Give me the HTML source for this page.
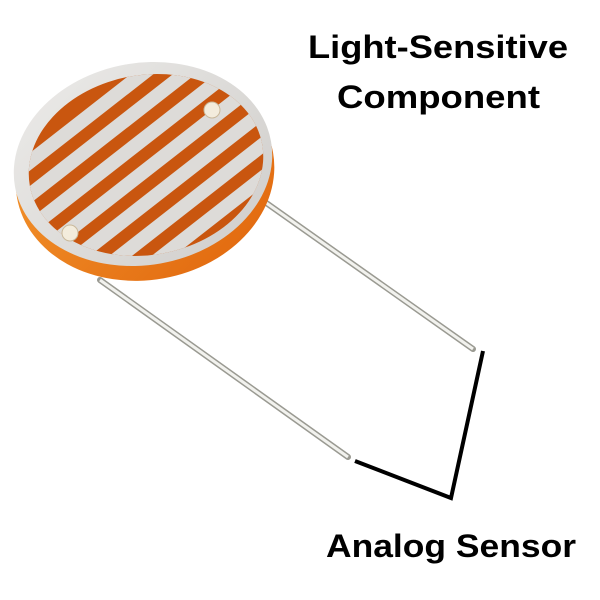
<!DOCTYPE html>
<html><head><style>
html,body{margin:0;padding:0;background:#fff;}
svg{display:block;}
text{font-family:"Liberation Sans",sans-serif;font-weight:bold;fill:#000;}
</style></head><body>
<svg width="600" height="600" viewBox="0 0 600 600">
<defs>
<clipPath id="inner"><ellipse cx="146" cy="165" rx="118" ry="90" transform="rotate(-10 146 165)"/></clipPath>
<linearGradient id="rim" x1="0" y1="0" x2="1" y2="1">
<stop offset="0" stop-color="#f59a30"/><stop offset="1" stop-color="#e0650c"/></linearGradient>
<linearGradient id="face" x1="0" y1="0" x2="1" y2="1">
<stop offset="0" stop-color="#ecebe9"/><stop offset="1" stop-color="#cfcdca"/></linearGradient>
</defs>
<!-- leads -->
<line x1="255" y1="195" x2="473" y2="349" stroke="#9a9a92" stroke-width="6" stroke-linecap="round"/>
<line x1="255" y1="195" x2="473" y2="349" stroke="#f2f2ee" stroke-width="3"/>
<line x1="100" y1="280" x2="348" y2="457" stroke="#9a9a92" stroke-width="6" stroke-linecap="round"/>
<line x1="100" y1="280" x2="348" y2="457" stroke="#f2f2ee" stroke-width="3"/>
<!-- disc -->
<ellipse cx="145" cy="175" rx="130" ry="105" transform="rotate(-10 145 175)" fill="url(#rim)"/>
<ellipse cx="143" cy="164" rx="130" ry="101" transform="rotate(-10 143 164)" fill="url(#face)"/>
<g clip-path="url(#inner)">
<rect x="0" y="0" width="300" height="300" fill="#c9560f"/>
<g transform="rotate(-38 146 165)" fill="#dddbd8">
<rect x="30" y="84" width="240" height="14"/>
<rect x="10" y="110" width="260" height="14"/>
<rect x="10" y="136" width="270" height="14"/>
<rect x="10" y="162" width="270" height="14"/>
<rect x="10" y="188" width="270" height="14"/>
<rect x="10" y="214" width="260" height="14"/>
<rect x="20" y="240" width="250" height="14"/>
</g>
</g>
<circle cx="212" cy="110" r="8" fill="#f3ecdc" stroke="#c9b89a"/>
<circle cx="70" cy="233" r="8" fill="#f3ecdc" stroke="#c9b89a"/>
<!-- callout lines -->
<polyline points="483,351 451,498 355,461" fill="none" stroke="#000" stroke-width="4"/>
<text x="308" y="58" font-size="32" textLength="260" lengthAdjust="spacingAndGlyphs">Light-Sensitive</text>
<text x="337" y="108" font-size="32" textLength="203" lengthAdjust="spacingAndGlyphs">Component</text>
<text x="326" y="557" font-size="32" textLength="250" lengthAdjust="spacingAndGlyphs">Analog Sensor</text>
</svg>
</body></html>
